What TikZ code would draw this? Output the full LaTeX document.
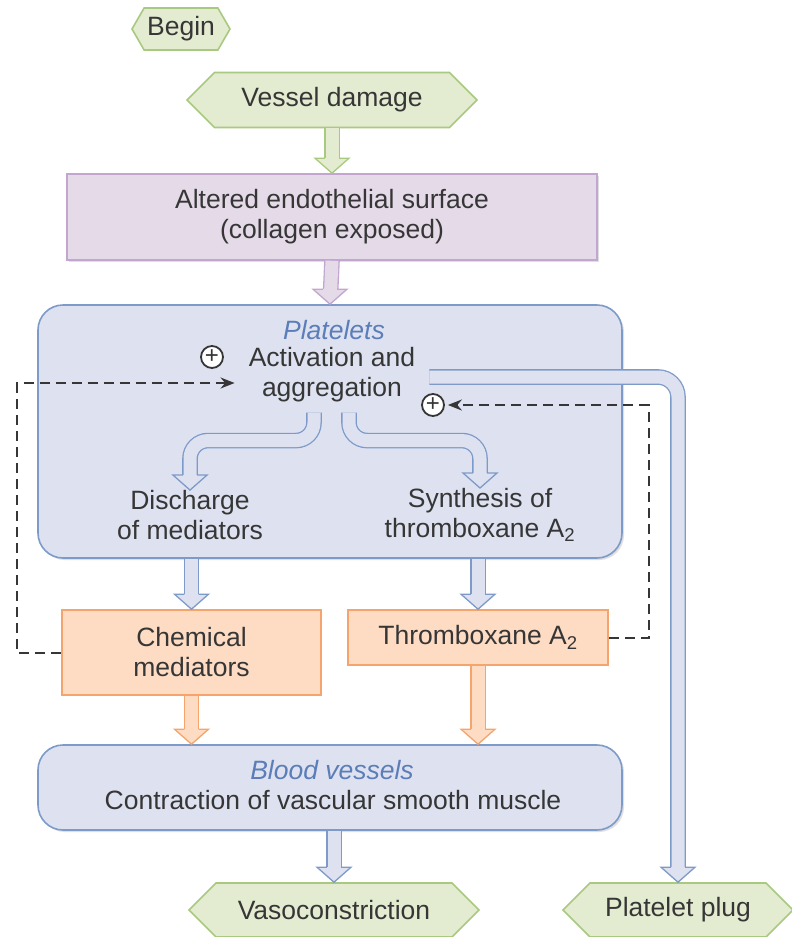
\documentclass[tikz,border=0pt]{standalone}
\usepackage{fontspec}
\setmainfont{Liberation Sans}
\usetikzlibrary{shapes.symbols,shadows,arrows.meta}

\definecolor{txt}{HTML}{363636}
\definecolor{ital}{HTML}{5B7DB8}
\definecolor{gfill}{HTML}{E3ECD0}
\definecolor{gline}{HTML}{A8C97F}
\definecolor{pfill}{HTML}{E4DAE8}
\definecolor{pline}{HTML}{C3A6CF}
\definecolor{bfill}{HTML}{DEE2F0}
\definecolor{bline}{HTML}{7D9AC9}
\definecolor{ofill}{HTML}{FDDCC3}
\definecolor{oline}{HTML}{F4A46C}

\begin{document}
\begin{tikzpicture}[x=1pt,y=-1pt,font=\fontsize{26.5}{30}\selectfont,text=txt]
        \tikzstyle{hexa}=[signal,signal to=west and east,signal pointer angle=90,draw=gline,fill=gfill,line width=1.6pt,inner sep=0pt]
        \tikzstyle{box}=[rectangle,line width=1.6pt,align=center,inner sep=0pt]
        \tikzstyle{rbox}=[box,rounded corners=25pt,draw=bline,fill=bfill,drop shadow={shadow xshift=2pt,shadow yshift=-2pt,opacity=.25}]
        \tikzstyle{pbox}=[box,draw=pline,fill=pfill,drop shadow={shadow xshift=2pt,shadow yshift=-2pt,opacity=.25}]
        \tikzstyle{obox}=[box,draw=oline,fill=ofill]
        \tikzstyle{label}=[align=center,inner sep=0pt]
        \tikzstyle{plus}=[circle,draw=txt,fill=white,line width=1.8pt,minimum size=22pt,inner sep=0pt,font=\fontsize{24}{24}\selectfont]
        \tikzstyle{fat}=[line width=1.3pt,double distance=13pt,shorten >=14pt]
        \tikzstyle{fatgreen}=[fat,draw=gline,double=gfill]
        \tikzstyle{fatpurple}=[fat,draw=pline,double=pfill]
        \tikzstyle{fatblue}=[fat,draw=bline,double=bfill]
        \tikzstyle{fatorange}=[fat,draw=oline,double=ofill]
        \tikzstyle{fb}=[draw=txt,line width=2pt,dash pattern=on 10pt off 6pt,-{Stealth[length=14pt,width=11pt]}]
        \tikzset{dnhead/.pic={\path[pic actions,line width=1.3pt,line join=miter] (-7.1,-15) -- (-17,-15) -- (0,0) -- (17,-15) -- (7.1,-15);}}
        \useasboundingbox (0,0) rectangle (792,937);

        % start and first steps
        \node [hexa,signal pointer angle=120,minimum width=98pt,minimum height=42pt] (begin) at (181,29) {Begin};
        \node [hexa,minimum width=290pt,minimum height=55pt] (vessel) at (332,100) {Vessel damage};
        \node [pbox,minimum width=530pt,minimum height=86pt] (surf) at (332,217) {Altered endothelial surface\\(collagen exposed)};

        \draw [fatgreen] (vessel.south) -- (surf.north);
        \pic [draw=gline,fill=gfill] at (surf.north) {dnhead};

        % platelets
        \node [rbox,minimum width=584pt,minimum height=253pt] (plt) at (330,431.5) {};
        \draw [fatpurple] (surf.south) -- (plt.north);
        \pic [draw=pline,fill=pfill] at (plt.north) {dnhead};

        \node [label,text=ital,font=\fontsize{26.5}{30}\selectfont\itshape] (pname) at (334,330) {Platelets};
        \node [label] (act) at (332,375) {Activation and\\aggregation};
        \node [plus] (p1) at (212,357) {+};
        \node [plus] (p2) at (433,405) {+};
        \node [label] (disc) at (190,515) {Discharge\\of mediators};
        \node [label] (synth) at (480,515) {Synthesis of\\thromboxane A\textsubscript{2}};

        \draw [fatblue,rounded corners=18pt] ([shift={(-18,10)}]act.south) -- ++(0,28) -| (disc.north);
        \pic [draw=bline,fill=bfill] at (disc.north) {dnhead};
        \draw [fatblue,rounded corners=18pt] ([shift={(17,10)}]act.south) -- ++(0,28) -| (synth.north);
        \pic [draw=bline,fill=bfill] at (synth.north) {dnhead};

        % mediators
        \node [obox,minimum width=259pt,minimum height=85pt] (chem) at (191.5,652.5) {Chemical\\mediators};
        \node [obox,minimum width=260pt,minimum height=55pt] (thx) at (478,637.5) {Thromboxane A\textsubscript{2}};

        \draw [fatblue] (chem.north |- plt.south) -- (chem.north);
        \pic [draw=bline,fill=bfill] at (chem.north) {dnhead};
        \draw [fatblue] (thx.north |- plt.south) -- (thx.north);
        \pic [draw=bline,fill=bfill] at (thx.north) {dnhead};

        % blood vessels
        \node [rbox,minimum width=584pt,minimum height=85pt] (bv) at (330,787.5) {};
        \node [label,text=ital,font=\fontsize{26.5}{30}\selectfont\itshape] (bvname) at (332,770) {Blood vessels};
        \node [label] (contr) at (333,800) {Contraction of vascular smooth muscle};

        \draw [fatorange] (chem.south) -- (chem.south |- bv.north);
        \pic [draw=oline,fill=ofill] at (chem.south |- bv.north) {dnhead};
        \draw [fatorange] (thx.south) -- (thx.south |- bv.north);
        \pic [draw=oline,fill=ofill] at (thx.south |- bv.north) {dnhead};

        % outcomes
        \node [hexa,minimum width=290pt,minimum height=54pt] (vaso) at (334,910) {Vasoconstriction};
        \node [hexa,minimum width=230pt,minimum height=54pt] (plug) at (678,910) {Platelet plug};

        \draw [fatblue] (vaso.north |- bv.south) -- (vaso.north);
        \pic [draw=bline,fill=bfill] at (vaso.north) {dnhead};
        \draw [fatblue,rounded corners=20pt] ([shift={(14,2)}]act.east) -| (plug.north);
        \pic [draw=bline,fill=bfill] at (plug.north) {dnhead};

        % feedback loops
        \draw [fb] (chem.west) -- ++(-44,0) |- ([shift={(-14,8)}]act.west);
        \draw [fb,shorten >=3pt] (thx.east) -- ++(40,0) |- (p2.east);
\end{tikzpicture}
\end{document}
